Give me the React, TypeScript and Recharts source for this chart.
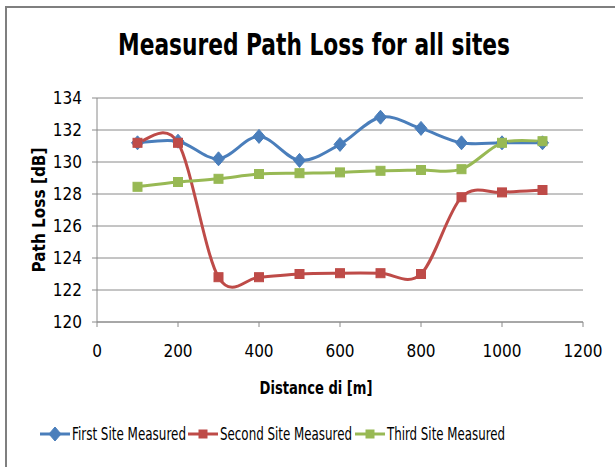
import React from "react";
import { LineChart, Line, XAxis, YAxis, CartesianGrid } from "recharts";

// ─── Data ─────────────────────────────────────────────────────────────────────
const distances = [100, 200, 300, 400, 500, 600, 700, 800, 900, 1000, 1100];
const firstSite = [131.2, 131.3, 130.2, 131.6, 130.1, 131.1, 132.8, 132.1, 131.2, 131.2, 131.2];
const secondSite = [131.2, 131.2, 122.8, 122.8, 123.0, 123.05, 123.05, 123.0, 127.8, 128.1, 128.25];
const thirdSite = [128.45, 128.75, 128.95, 129.25, 129.3, 129.35, 129.45, 129.5, 129.55, 131.2, 131.3];
const xTicks = [0, 200, 400, 600, 800, 1000, 1200];
const yTicks = [120, 122, 124, 126, 128, 130, 132, 134];

const data = distances.map((d, i) => ({
  d, first: firstSite[i], second: secondSite[i], third: thirdSite[i],
}));

const BLUE = "#4A7EBB";
const RED = "#BE4B48";
const GREEN = "#98B954";
const GRID = "#8A8A8A";
const FONT = "'Liberation Sans Narrow', 'DejaVu Sans Condensed', sans-serif";

// ─── Excel-like smoothed line (Catmull-Rom as cubic beziers) ─────────────────
function excelSmooth(context: any) {
  let pts: number[][] = [];
  return {
    areaStart() {},
    areaEnd() {},
    lineStart() { pts = []; },
    point(x: number, y: number) { pts.push([+x, +y]); },
    lineEnd() {
      if (!pts.length) return;
      context.moveTo(pts[0][0], pts[0][1]);
      const t = 1 / 6;
      for (let i = 0; i < pts.length - 1; i++) {
        const p0 = pts[Math.max(i - 1, 0)];
        const p1 = pts[i];
        const p2 = pts[i + 1];
        const p3 = pts[Math.min(i + 2, pts.length - 1)];
        context.bezierCurveTo(
          p1[0] + (p2[0] - p0[0]) * t, p1[1] + (p2[1] - p0[1]) * t,
          p2[0] - (p3[0] - p1[0]) * t, p2[1] - (p3[1] - p1[1]) * t,
          p2[0], p2[1],
        );
      }
    },
  };
}

// ─── Markers ─────────────────────────────────────────────────────────────────
const Diamond = ({ cx, cy, fill }: any) => (
  <path d={`M${cx},${cy - 7}L${cx + 6},${cy}L${cx},${cy + 7}L${cx - 6},${cy}Z`} fill={fill} stroke={fill} strokeWidth={1} />
);
const Square = ({ cx, cy, fill, s }: any) => (
  <rect x={cx - s / 2} y={cy - s / 2} width={s} height={s} fill={fill} stroke={fill} strokeWidth={1} />
);

const legendItems = [
  { name: "First Site Measured", color: BLUE, x: 40, len: 114, marker: "diamond" },
  { name: "Second Site Measured", color: RED, x: 188, len: 132, marker: "square" },
  { name: "Third Site Measured", color: GREEN, x: 355, len: 118, marker: "square" },
];

export default function App() {
  return (
    <div style={{ position: "absolute", left: 0, top: 0, width: 615, height: 467, background: "#fff", overflow: "hidden" }}>
      <div style={{ position: "absolute", left: 5, top: 6, width: 640, height: 500, borderTop: "2px solid #7F7F7F", borderLeft: "2px solid #7F7F7F" }} />
      <svg width={615} height={467} style={{ position: "absolute", left: 0, top: 0 }}>
        <text x={314} y={55} textAnchor="middle" fontFamily={FONT} fontWeight="bold" fontSize={31} fill="#000"
          textLength={392} lengthAdjust="spacingAndGlyphs">Measured Path Loss for all sites</text>
        <text x={316} y={394} textAnchor="middle" fontFamily={FONT} fontWeight="bold" fontSize={17} fill="#000"
          textLength={113} lengthAdjust="spacingAndGlyphs">Distance di [m]</text>
        <text transform="translate(45,210) rotate(-90)" textAnchor="middle" fontFamily={FONT} fontWeight="bold" fontSize={17} fill="#000"
          textLength={125} lengthAdjust="spacingAndGlyphs">Path Loss [dB]</text>
        {legendItems.map((it) => (
          <g key={it.name}>
            <line x1={it.x} x2={it.x + 30} y1={434} y2={434} stroke={it.color} strokeWidth={3} />
            {it.marker === "diamond"
              ? <Diamond cx={it.x + 15} cy={434} fill={it.color} />
              : <Square cx={it.x + 15} cy={434} fill={it.color} s={8} />}
            <text x={it.x + 32} y={440} fontFamily={FONT} fontSize={17} fill="#000"
              textLength={it.len} lengthAdjust="spacingAndGlyphs">{it.name}</text>
          </g>
        ))}
      </svg>
      <div style={{ position: "absolute", left: 0, top: 0 }}>
        <LineChart width={615} height={467} data={data} margin={{ top: 98, right: 32, bottom: 115, left: 37 }}>
          <CartesianGrid vertical={false} stroke={GRID} strokeWidth={1} />
          <XAxis dataKey="d" type="number" domain={[0, 1200]} ticks={xTicks} allowDataOverflow
            height={30} tickSize={5} tickMargin={18} stroke={GRID}
            tick={{ fontSize: 17, fill: "#000", fontFamily: FONT }} />
          <YAxis type="number" domain={[120, 134]} ticks={yTicks} allowDataOverflow
            width={60} tickSize={5} tickMargin={10} stroke={GRID}
            tick={{ fontSize: 17, fill: "#000", fontFamily: FONT }} />
          <Line dataKey="first" type={excelSmooth as any} stroke={BLUE} strokeWidth={3} isAnimationActive={false}
            dot={(p: any) => <Diamond key={p.index} cx={p.cx} cy={p.cy} fill={BLUE} />} activeDot={false} />
          <Line dataKey="second" type={excelSmooth as any} stroke={RED} strokeWidth={3} isAnimationActive={false}
            dot={(p: any) => <Square key={p.index} cx={p.cx} cy={p.cy} fill={RED} s={9} />} activeDot={false} />
          <Line dataKey="third" type={excelSmooth as any} stroke={GREEN} strokeWidth={3} isAnimationActive={false}
            dot={(p: any) => <Square key={p.index} cx={p.cx} cy={p.cy} fill={GREEN} s={9} />} activeDot={false} />
        </LineChart>
      </div>
    </div>
  );
}
